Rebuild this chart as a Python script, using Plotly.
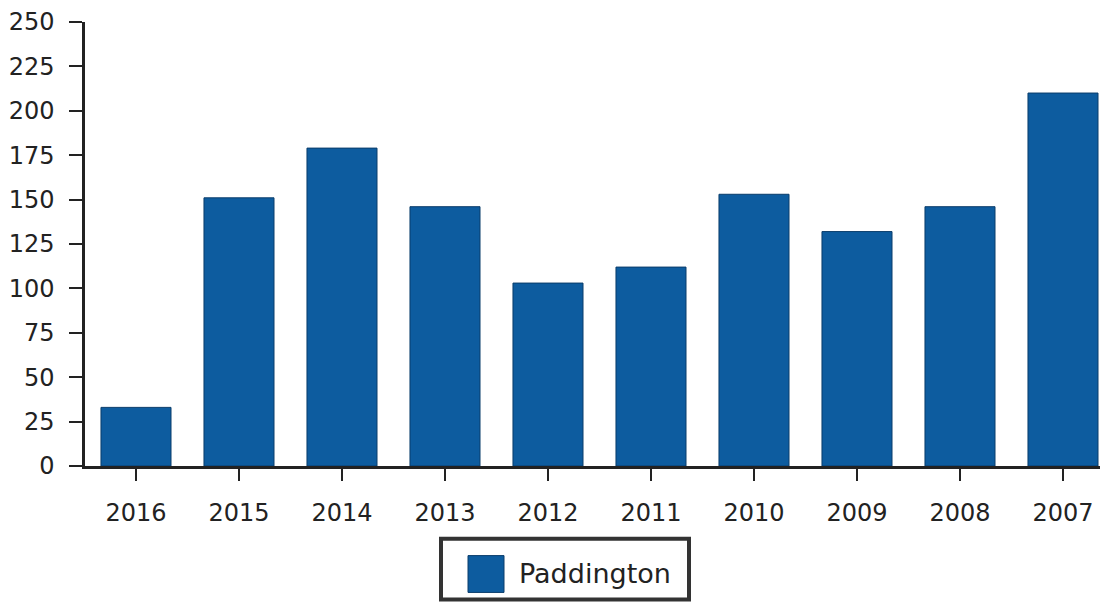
import plotly.graph_objects as go

years = ["2016", "2015", "2014", "2013", "2012", "2011", "2010", "2009", "2008", "2007"]
values = [33, 151, 179, 146, 103, 112, 153, 132, 146, 210]
y_ticks = [0, 25, 50, 75, 100, 125, 150, 175, 200, 225, 250]
series_name = "Paddington"

# page body has an 8px margin, so the figure is 8px smaller than the window
OFF = 8
W, H = 1108 - OFF, 604 - OFF
L, R, T, B = 85 - OFF, 0, 20 - OFF, 604 - 466
BAR = "#0d5c9f"
EDGE = "#0a3d6b"
AX = "#222222"

fig = go.Figure()
fig.add_trace(go.Bar(
    x=years, y=values, name=series_name, width=0.68,
    marker=dict(color=BAR, line=dict(color=EDGE, width=1)),
    showlegend=False,
))

def px_x(p):
    return (p - OFF - L) / (W - L - R)

def px_y(p):
    return (H - B - (p - OFF)) / (H - T - B)

# custom legend box
fig.add_shape(type="rect", xref="paper", yref="paper",
              x0=px_x(441), x1=px_x(689), y0=px_y(600), y1=px_y(539),
              line=dict(color="#333333", width=4), fillcolor="white")
fig.add_shape(type="rect", xref="paper", yref="paper",
              x0=px_x(468), x1=px_x(504), y0=px_y(593), y1=px_y(556),
              line=dict(color=EDGE, width=1), fillcolor=BAR)
fig.add_annotation(xref="paper", yref="paper", x=px_x(517), y=px_y(574),
                   xanchor="left", yanchor="middle", text=series_name,
                   showarrow=False,
                   font=dict(family="DejaVu Sans", size=27, color="#222222"))

fig.update_layout(
    width=W, height=H,
    margin=dict(l=L, r=R, t=T, b=B, pad=0),
    paper_bgcolor="white", plot_bgcolor="white",
    font=dict(family="DejaVu Sans", size=24, color="#222222"),
    xaxis=dict(type="category", range=[-0.495, 9.437], showgrid=False,
               showline=True, linecolor=AX, linewidth=2.5,
               ticks="outside", ticklen=12, tickwidth=2, tickcolor=AX,
               ticklabelstandoff=11, tickfont=dict(size=24)),
    yaxis=dict(range=[0, 250], tickvals=y_ticks, showgrid=False, zeroline=False,
               showline=True, linecolor=AX, linewidth=2.5,
               ticks="outside", ticklen=13, tickwidth=2, tickcolor=AX,
               ticklabelstandoff=10, ticklabeloverflow="allow",
               tickfont=dict(size=24)),
)

fig.write_html("out.html")
